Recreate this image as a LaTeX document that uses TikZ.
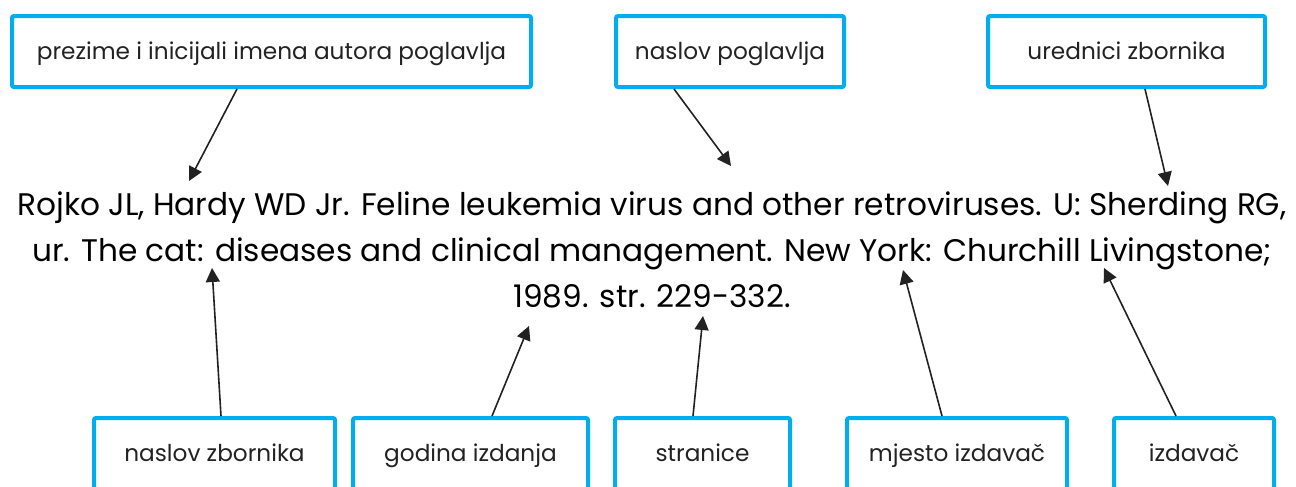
\documentclass[tikz,border=0pt]{standalone}
\usepackage{fontspec}
\setmainfont{Poppins}
\usetikzlibrary{arrows.meta}
\definecolor{boxblue}{HTML}{00AEEF}
\definecolor{inkgray}{HTML}{222222}
\begin{document}
\begin{tikzpicture}[
        x=0.5pt, y=-0.5pt,
        label box/.style={rectangle, draw=boxblue, line width=2pt, rounded corners=1pt, minimum height=35.5pt, inner sep=0pt, text height=1.95ex, text depth=0.4ex, text=inkgray, font=\fontsize{11.6}{13}\selectfont},
        arrow/.style={-{Triangle[length=7pt, width=7pt]}, line width=0.8pt, draw=inkgray}
    ]
        \useasboundingbox (0,0) rectangle (1296,487);

        % citation text
        \node (citation) [align=center, text=black, font=\fontsize{15.6}{23}\selectfont] at (652,250)
            {Rojko JL, Hardy WD Jr. Feline leukemia virus and other retroviruses. U: Sherding RG,\\
             ur. The cat: diseases and clinical management. New York: Churchill Livingstone;\\
             1989. str. 229-332.};

        % top labels
        \node (author) [label box, minimum width=259.5pt] at (271.5,51.5) {prezime i inicijali imena autora poglavlja};
        \node (chaptitle) [label box, minimum width=114pt] at (730,51.5) {naslov poglavlja};
        \node (editors) [label box, minimum width=138.5pt] at (1126.5,51.5) {urednici zbornika};

        % bottom labels
        \node (booktitle) [label box, minimum width=120.5pt] at (214.5,453.5) {naslov zbornika};
        \node (year) [label box, minimum width=117.5pt] at (470.5,453.5) {godina izdanja};
        \node (pages) [label box, minimum width=87.5pt] at (702.5,453.5) {stranice};
        \node (place) [label box, minimum width=110pt] at (957,453.5) {mjesto izdava\v{c}};
        \node (publisher) [label box, minimum width=80pt] at (1194,453.5) {izdava\v{c}};

        % arrow tips
        \coordinate (authortip) at (189,181);
        \coordinate (chaptitletip) at (731,166);
        \coordinate (editorstip) at (1168,186);
        \coordinate (booktitletip) at (212,268);
        \coordinate (yeartip) at (529,326);
        \coordinate (pagestip) at (703,316);
        \coordinate (placetip) at (903,270);
        \coordinate (publishertip) at (1104,268);

        \draw[arrow] ([xshift=-17.25pt]author.south) -- (authortip);
        \draw[arrow] ([xshift=-28pt]chaptitle.south) -- (chaptitletip);
        \draw[arrow] ([xshift=9.25pt]editors.south) -- (editorstip);
        \draw[arrow] ([xshift=3.25pt]booktitle.north) -- (booktitletip);
        \draw[arrow] ([xshift=10.75pt]year.north) -- (yeartip);
        \draw[arrow] ([xshift=-4.75pt]pages.north) -- (pagestip);
        \draw[arrow] ([xshift=-7.5pt]place.north) -- (placetip);
        \draw[arrow] ([xshift=-9pt]publisher.north) -- (publishertip);

    \end{tikzpicture}
\end{document}
